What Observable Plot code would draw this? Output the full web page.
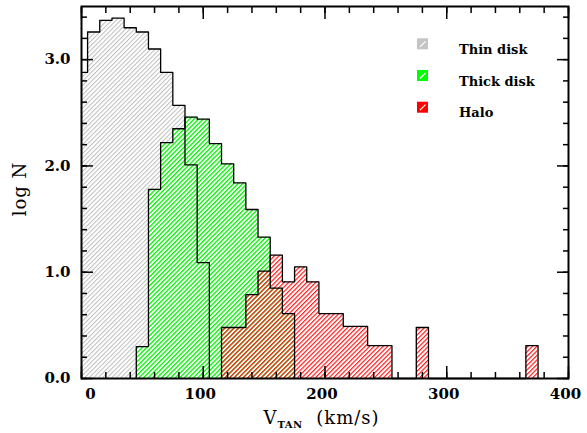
<!DOCTYPE html>
<html>
<head>
<meta charset="utf-8">
<script src="https://cdn.jsdelivr.net/npm/d3@7"></script>
<script src="https://cdn.jsdelivr.net/npm/@observablehq/plot@0.6"></script>
<style>
  body { margin: 0; background: #fff; }
  #chart svg { display: block; }
</style>
</head>
<body>
<div id="chart"></div>
<script>
// Tangential-velocity histograms (10 km/s bins), log of the star counts per bin
const binWidth = 10;

const thinCenters = [0, 10, 20, 30, 40, 50, 60, 70, 80, 90, 100];
const thinLogN    = [2.88, 3.26, 3.37, 3.39, 3.30, 3.26, 3.10, 2.88, 2.57, 2.01, 1.09];

const thickCenters = [50, 60, 70, 80, 90, 100, 110, 120, 130, 140, 150, 160, 170];
const thickLogN    = [0.30, 1.78, 2.22, 2.35, 2.46, 2.44, 2.21, 2.02, 1.84, 1.59, 1.33, 0.85, 0.61];

const haloCenters = [120, 130, 140, 150, 160, 170, 180, 190, 200, 210, 220, 230, 240, 250, 280, 370];
const haloLogN    = [0.48, 0.48, 0.79, 1.01, 1.16, 0.91, 1.05, 0.91, 0.61, 0.61, 0.49, 0.49, 0.31, 0.31, 0.48, 0.31];

const xMajorTicks = [0, 100, 200, 300, 400];
const yMajorTicks = [0, 1, 2, 3];

const legendNames  = ["Thin disk", "Thick disk", "Halo"];
const legendColors = ["#c4c4c4", "#00ff00", "#ff0000"];

// Hatch styles for the three populations
const hatches = [
  {id: "hatch-thin",  color: "#bdbdbd", spacing: 3.2, lineWidth: 1.0},
  {id: "hatch-thick", color: "#00f000", spacing: 3.2, lineWidth: 1.3},
  {id: "hatch-halo",  color: "#ff1a1a", spacing: 3.2, lineWidth: 1.2}
];

// Turn bin centres + heights into an outline that steps between bins
// and drops to zero wherever consecutive bins are not adjacent.
function stepOutline(centers, values) {
  const pts = [];
  centers.forEach((c, i) => {
    const x0 = c - binWidth / 2, x1 = c + binWidth / 2;
    const joinedPrev = i > 0 && centers[i - 1] + binWidth === c;
    const joinedNext = i < centers.length - 1 && centers[i + 1] - binWidth === c;
    if (!joinedPrev) pts.push({x: x0, y: 0});
    pts.push({x: x0, y: values[i]}, {x: x1, y: values[i]});
    if (!joinedNext) pts.push({x: x1, y: 0});
  });
  return pts;
}

const thinPts  = stepOutline(thinCenters, thinLogN);
const thickPts = stepOutline(thickCenters, thickLogN);
const haloPts  = stepOutline(haloCenters, haloLogN);

// <defs> with the diagonal hatch patterns
function hatchDefs() {
  const defs = d3.create("svg:defs");
  hatches.forEach(h => {
    const p = defs.append("pattern")
      .attr("id", h.id)
      .attr("patternUnits", "userSpaceOnUse")
      .attr("width", h.spacing)
      .attr("height", h.spacing)
      .attr("patternTransform", "rotate(45)");
    p.append("rect")
      .attr("width", h.lineWidth)
      .attr("height", h.spacing)
      .attr("fill", h.color);
  });
  return defs.node();
}

// Legend in the upper right of the frame
function legendMark(index, scales, values, dims) {
  const g = d3.create("svg:g").attr("text-anchor", "start");
  const left = dims.width - dims.marginRight - 151;
  legendNames.forEach((name, i) => {
    const top = dims.marginTop + 32.3 + i * 31.7;
    g.append("rect").attr("x", left).attr("y", top).attr("width", 11).attr("height", 11)
      .attr("fill", legendColors[i]);
    g.append("line").attr("x1", left + 3).attr("y1", top + 8.5).attr("x2", left + 8.5).attr("y2", top + 3)
      .attr("stroke", "white").attr("stroke-width", 1.2);
    g.append("text").attr("x", left + 42).attr("y", top + 15.5)
      .attr("text-anchor", "start")
      .attr("font-family", "DejaVu Serif").attr("font-weight", "bold").attr("font-size", 13)
      .attr("fill", "black").text(name);
  });
  return g.node();
}

// Axis titles
function xTitle(index, scales, values, dims) {
  const cx = dims.marginLeft + (dims.width - dims.marginLeft - dims.marginRight) / 2;
  const t = d3.create("svg:text")
    .attr("x", cx - 3).attr("y", dims.height - 9.5)
    .attr("text-anchor", "middle")
    .attr("font-family", "DejaVu Serif").attr("font-size", 18)
    .attr("letter-spacing", 1).attr("fill", "black");
  t.append("tspan").text("V");
  t.append("tspan").attr("dy", 4).attr("font-size", 10).attr("font-weight", "bold")
    .attr("letter-spacing", 0.5).text("TAN");
  t.append("tspan").attr("dy", -4).text("\u00a0\u00a0(km/s)");
  return t.node();
}

function yTitle(index, scales, values, dims) {
  const cy = dims.marginTop + (dims.height - dims.marginTop - dims.marginBottom) / 2;
  return d3.create("svg:text")
    .attr("transform", `translate(26,${cy - 3}) rotate(-90)`)
    .attr("text-anchor", "middle")
    .attr("font-family", "DejaVu Serif").attr("font-size", 18)
    .attr("letter-spacing", 1).attr("fill", "black")
    .text("log N")
    .node();
}

const tickFont = {fontFamily: "DejaVu Serif", fontWeight: "bold", fontSize: 15};
const noLabel = () => "";

const chart = Plot.plot({
  width: 587,
  height: 433,
  marginLeft: 81,
  marginRight: 19,
  marginTop: 6,
  marginBottom: 55,
  style: {background: "white", color: "black"},
  x: {domain: [0, 400], label: null},
  y: {domain: [0, 3.5], label: null},
  marks: [
    hatchDefs,
    // hatched fills: thin disk, then thick disk on a white ground, then halo over both
    Plot.area(thinPts,  {x1: "x", y1: 0, y2: "y", fill: "url(#hatch-thin)", clip: true}),
    Plot.area(thickPts, {x1: "x", y1: 0, y2: "y", fill: "white"}),
    Plot.area(thickPts, {x1: "x", y1: 0, y2: "y", fill: "url(#hatch-thick)"}),
    Plot.area(haloPts,  {x1: "x", y1: 0, y2: "y", fill: "url(#hatch-halo)"}),
    // histogram outlines
    Plot.line(thinPts,  {x: "x", y: "y", stroke: "black", strokeWidth: 1.3, clip: true}),
    Plot.line(thickPts, {x: "x", y: "y", stroke: "black", strokeWidth: 1.3}),
    Plot.line(haloPts,  {x: "x", y: "y", stroke: "black", strokeWidth: 1.3}),
    // inward ticks on all four sides
    Plot.axisX(d3.range(0, 401, 20), {anchor: "bottom", tickSize: -6, tickFormat: noLabel, strokeWidth: 1.5}),
    Plot.axisX(xMajorTicks, {anchor: "bottom", tickSize: -12, tickFormat: noLabel, strokeWidth: 1.5}),
    Plot.axisX(d3.range(0, 401, 20), {anchor: "top", tickSize: -6, tickFormat: noLabel, strokeWidth: 1.5}),
    Plot.axisX(xMajorTicks, {anchor: "top", tickSize: -12, tickFormat: noLabel, strokeWidth: 1.5}),
    Plot.axisY(d3.range(0, 3.51, 0.2), {anchor: "left", tickSize: -6, tickFormat: noLabel, strokeWidth: 1.5}),
    Plot.axisY(yMajorTicks, {anchor: "left", tickSize: -12, tickFormat: noLabel, strokeWidth: 1.5}),
    Plot.axisY(d3.range(0, 3.51, 0.2), {anchor: "right", tickSize: -6, tickFormat: noLabel, strokeWidth: 1.5}),
    Plot.axisY(yMajorTicks, {anchor: "right", tickSize: -12, tickFormat: noLabel, strokeWidth: 1.5}),
    // tick labels
    Plot.axisX(xMajorTicks.slice(0, 1), {anchor: "bottom", tickSize: 0, tickPadding: 10, dx: 9, ...tickFont}),
    Plot.axisX(xMajorTicks.slice(1), {anchor: "bottom", tickSize: 0, tickPadding: 10, dx: -3, ...tickFont}),
    Plot.axisY(yMajorTicks, {anchor: "left", tickSize: 0, tickPadding: 11, tickFormat: d3.format(".1f"), ...tickFont}),
    Plot.frame({stroke: "black", strokeWidth: 2}),
    legendMark,
    xTitle,
    yTitle
  ]
});

document.getElementById("chart").appendChild(chart);
</script>
</body>
</html>
